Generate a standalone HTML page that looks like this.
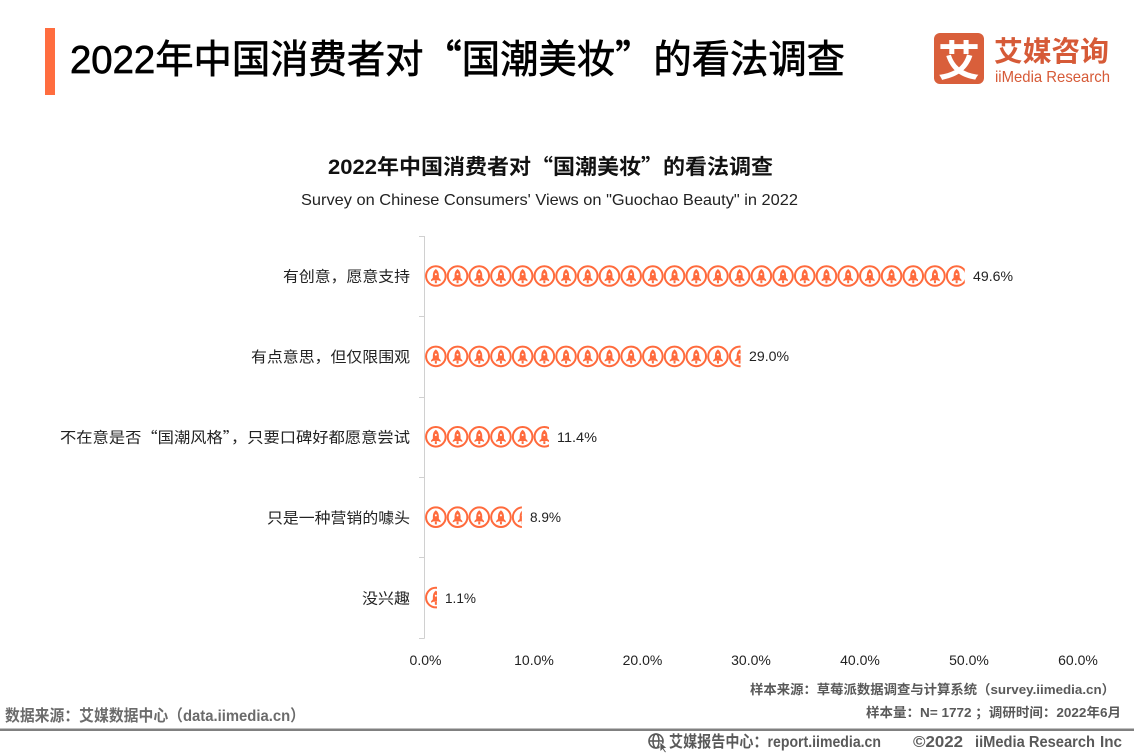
<!DOCTYPE html>
<html><head><meta charset="utf-8"><style>
html,body{margin:0;padding:0;background:#fff;}
svg{display:block;font-family:"Liberation Sans","Noto Sans CJK SC",sans-serif;}
.cj{font-family:"Noto Sans CJK SC","Liberation Sans",sans-serif;}
</style></head><body>
<svg width="1134" height="756" viewBox="0 0 1134 756" xmlns="http://www.w3.org/2000/svg">
<defs>
  <g id="ic">
    <circle cx="0" cy="0" r="9.8" fill="#fff" stroke="#FF6B3D" stroke-width="2"/>
    <path d="M0,-7 C2,-5.6 3,-3.4 3,-0.8 L3,1.8 L4.8,3.8 L4.8,5.2 L2.4,4.2 L-2.4,4.2 L-4.8,5.2 L-4.8,3.8 L-3,1.8 L-3,-0.8 C-3,-3.4 -2,-5.6 0,-7 Z" fill="#FF6B3D"/>
    <circle cx="0" cy="-1.8" r="1" fill="#fff"/>
    <rect x="-1" y="4.4" width="2" height="2.8" fill="#FF6B3D"/>
  </g>
  <g id="row">
    <use href="#ic" x="435.85"/><use href="#ic" x="457.55"/><use href="#ic" x="479.25"/><use href="#ic" x="500.95"/><use href="#ic" x="522.65"/>
    <use href="#ic" x="544.35"/><use href="#ic" x="566.05"/><use href="#ic" x="587.75"/><use href="#ic" x="609.45"/><use href="#ic" x="631.15"/>
    <use href="#ic" x="652.85"/><use href="#ic" x="674.55"/><use href="#ic" x="696.25"/><use href="#ic" x="717.95"/><use href="#ic" x="739.65"/>
    <use href="#ic" x="761.35"/><use href="#ic" x="783.05"/><use href="#ic" x="804.75"/><use href="#ic" x="826.45"/><use href="#ic" x="848.15"/>
    <use href="#ic" x="869.85"/><use href="#ic" x="891.55"/><use href="#ic" x="913.25"/><use href="#ic" x="934.95"/><use href="#ic" x="956.65"/>
  </g>
  <clipPath id="c1"><rect x="424" y="250" width="540.8" height="60"/></clipPath>
  <clipPath id="c2"><rect x="424" y="330" width="316.6" height="60"/></clipPath>
  <clipPath id="c3"><rect x="424" y="410" width="125" height="60"/></clipPath>
  <clipPath id="c4"><rect x="424" y="490" width="97.9" height="60"/></clipPath>
  <clipPath id="c5"><rect x="424" y="570" width="13" height="60"/></clipPath>
</defs>

<!-- header -->
<rect x="45" y="28" width="10" height="67" fill="#FF6D3F"/>
<text x="70" y="73" font-size="39" fill="#000" stroke="#000" stroke-width="0.7" textLength="775" lengthAdjust="spacingAndGlyphs">2022年中国消费者对<tspan class="cj">“</tspan>国潮美妆<tspan class="cj">”</tspan>的看法调查</text>

<!-- logo -->
<rect x="934" y="33" width="50" height="51" rx="6" fill="#D95F3B"/>
<text x="959" y="76" font-size="42" font-weight="bold" fill="#fff" text-anchor="middle" class="cj">艾</text>
<text x="994" y="61" font-size="28" font-weight="bold" fill="#D65A37" textLength="115" lengthAdjust="spacingAndGlyphs" class="cj">艾媒咨询</text>
<text x="995" y="82" font-size="16" fill="#D65A37" textLength="115" lengthAdjust="spacingAndGlyphs">iiMedia Research</text>

<!-- chart titles -->
<text x="328" y="174" font-size="21" font-weight="bold" fill="#111" textLength="445" lengthAdjust="spacingAndGlyphs">2022年中国消费者对<tspan class="cj">“</tspan>国潮美妆<tspan class="cj">”</tspan>的看法调查</text>
<text x="301" y="205" font-size="16" fill="#222" textLength="497" lengthAdjust="spacingAndGlyphs">Survey on Chinese Consumers' Views on "Guochao Beauty" in 2022</text>

<!-- axis -->
<g stroke="#d0d0d0" stroke-width="1">
  <line x1="424.5" y1="236" x2="424.5" y2="638.5"/>
  <line x1="419" y1="236.5" x2="424.5" y2="236.5"/>
  <line x1="419" y1="316.5" x2="424.5" y2="316.5"/>
  <line x1="419" y1="397.5" x2="424.5" y2="397.5"/>
  <line x1="419" y1="477.5" x2="424.5" y2="477.5"/>
  <line x1="419" y1="557.5" x2="424.5" y2="557.5"/>
  <line x1="419" y1="638.5" x2="424.5" y2="638.5"/>
</g>

<!-- category labels -->
<g font-size="15" fill="#222" text-anchor="end">
  <text x="410" y="281.5" textLength="127" lengthAdjust="spacingAndGlyphs">有创意，愿意支持</text>
  <text x="410" y="362" textLength="159" lengthAdjust="spacingAndGlyphs">有点意思，但仅限围观</text>
  <text x="410" y="442.5" textLength="350" lengthAdjust="spacingAndGlyphs">不在意是否<tspan class="cj">“</tspan>国潮风格<tspan class="cj">”</tspan>，只要口碑好都愿意尝试</text>
  <text x="410" y="523" textLength="143" lengthAdjust="spacingAndGlyphs">只是一种营销的噱头</text>
  <text x="410" y="603.5" textLength="48" lengthAdjust="spacingAndGlyphs">没兴趣</text>
</g>

<!-- bars -->
<g clip-path="url(#c1)"><use href="#row" y="276"/></g>
<g clip-path="url(#c2)"><use href="#row" y="356.4"/></g>
<g clip-path="url(#c3)"><use href="#row" y="436.8"/></g>
<g clip-path="url(#c4)"><use href="#row" y="517.2"/></g>
<g clip-path="url(#c5)"><use href="#row" y="597.6"/></g>

<!-- value labels -->
<g font-size="14" fill="#222">
  <text x="973" y="281" textLength="40" lengthAdjust="spacingAndGlyphs">49.6%</text>
  <text x="749" y="361" textLength="40" lengthAdjust="spacingAndGlyphs">29.0%</text>
  <text x="557" y="442" textLength="40" lengthAdjust="spacingAndGlyphs">11.4%</text>
  <text x="530" y="522" textLength="31" lengthAdjust="spacingAndGlyphs">8.9%</text>
  <text x="445" y="603" textLength="31" lengthAdjust="spacingAndGlyphs">1.1%</text>
</g>

<!-- x axis labels -->
<g font-size="14" fill="#222" text-anchor="middle">
  <text x="425.5" y="665">0.0%</text>
  <text x="534" y="665">10.0%</text>
  <text x="642.5" y="665">20.0%</text>
  <text x="751" y="665">30.0%</text>
  <text x="860" y="665">40.0%</text>
  <text x="969" y="665">50.0%</text>
  <text x="1078" y="665">60.0%</text>
</g>

<!-- footer -->
<text x="1115" y="694" font-size="13" font-weight="bold" fill="#595959" text-anchor="end" textLength="365" lengthAdjust="spacingAndGlyphs">样本来源：草莓派数据调查与计算系统（survey.iimedia.cn）</text>
<text x="1121" y="717" font-size="13" font-weight="bold" fill="#595959" text-anchor="end" textLength="255" lengthAdjust="spacingAndGlyphs">样本量：N= 1772 ；调研时间：2022年6月</text>
<text x="5" y="721" font-size="16" font-weight="bold" fill="#6b6b6b" textLength="300" lengthAdjust="spacingAndGlyphs">数据来源：艾媒数据中心（data.iimedia.cn）</text>
<rect x="0" y="728.5" width="1134" height="2.5" fill="#808080"/>
<g fill="none" stroke="#595959" stroke-width="1.6">
  <circle cx="656" cy="741" r="7"/>
  <line x1="649" y1="741" x2="663" y2="741"/>
  <ellipse cx="656" cy="741" rx="3" ry="7"/>
</g>
<path d="M660,742 L660,752 L662.5,749.5 L665,753 L666.5,752 L664,748.5 L667,748 Z" fill="#595959" stroke="#fff" stroke-width="0.8"/>
<g font-size="16" font-weight="bold" fill="#595959">
  <text x="669" y="747" textLength="212" lengthAdjust="spacingAndGlyphs">艾媒报告中心：report.iimedia.cn</text>
  <text x="913" y="747" textLength="50" lengthAdjust="spacingAndGlyphs">©2022</text>
  <text x="975" y="747" textLength="120" lengthAdjust="spacingAndGlyphs">iiMedia Research</text>
  <text x="1100" y="747" textLength="22" lengthAdjust="spacingAndGlyphs">Inc</text>
</g>
</svg>
</body></html>
